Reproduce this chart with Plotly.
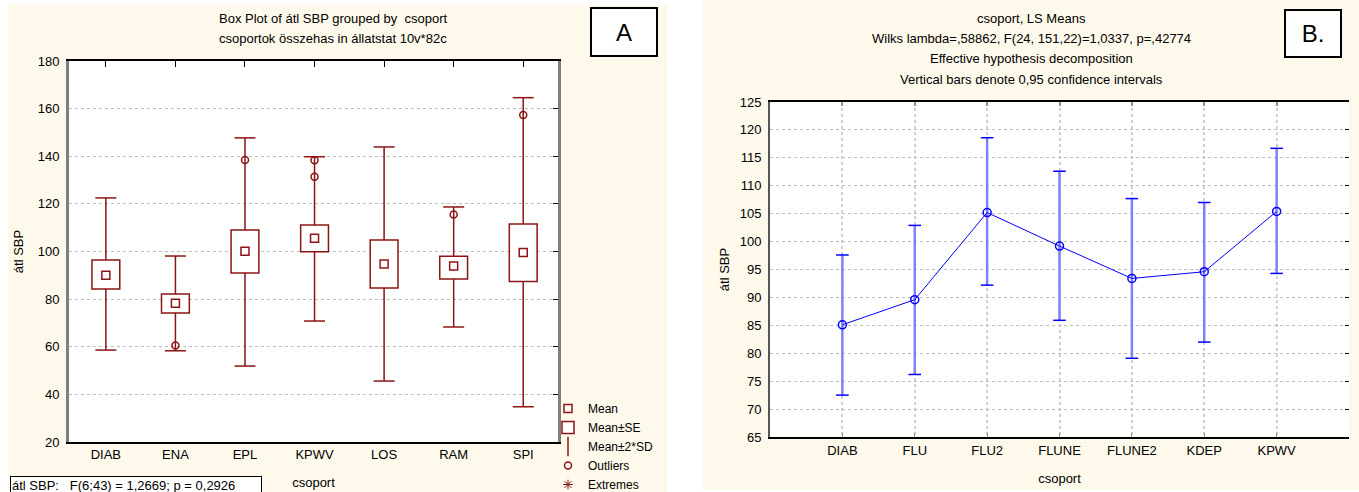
import plotly.graph_objects as go

# ---------------- Data: panel A (box plot) ----------------
cats_A = ["DIAB", "ENA", "EPL", "KPWV", "LOS", "RAM", "SPI"]
mean_A = [90.0, 78.3, 100.1, 105.6, 94.8, 93.9, 99.6]
se_lo_A = [84.2, 74.2, 91.0, 99.9, 84.7, 88.4, 87.4]
se_hi_A = [96.4, 82.1, 109.0, 111.1, 104.8, 98.0, 111.5]
sd_lo_A = [58.6, 58.3, 51.9, 70.8, 45.6, 68.3, 34.8]
sd_hi_A = [122.5, 98.1, 147.7, 139.8, 143.9, 118.7, 164.6]
outlier_cat = ["ENA", "EPL", "KPWV", "KPWV", "RAM", "SPI"]
outlier_val = [60.5, 138.4, 138.3, 131.4, 115.5, 157.3]
ticks_A = [20, 40, 60, 80, 100, 120, 140, 160, 180]

# ---------------- Data: panel B (LS means) ----------------
cats_B = ["DIAB", "FLU", "FLU2", "FLUNE", "FLUNE2", "KDEP", "KPWV"]
mean_B = [85.1, 89.6, 105.2, 99.2, 93.4, 94.6, 105.4]
ci_lo_B = [72.5, 76.2, 92.2, 85.9, 79.1, 82.0, 94.3]
ci_hi_B = [97.6, 102.9, 118.6, 112.6, 107.7, 107.0, 116.7]
ticks_B = [65, 70, 75, 80, 85, 90, 95, 100, 105, 110, 115, 120, 125]

W, H = 1359, 492
FONT = "Liberation Sans, Arial, sans-serif"
RED = "#8C1414"
BLUE = "#0000FF"
CREAM = "#FFF9EC"


def px(x):
    return x / W


def py(y):
    return 1 - y / H


fig = go.Figure()

# ---- Panel A traces ----
fig.add_trace(go.Bar(
    x=cats_A, y=[h - l for h, l in zip(se_hi_A, se_lo_A)], base=se_lo_A,
    width=0.4, marker=dict(color="white", line=dict(color=RED, width=1.5)),
    name="Mean±SE", xaxis="x", yaxis="y", legendrank=2, hoverinfo="skip"))

wx, wy = [], []
for c, bl, bh, sl, sh in zip(cats_A, se_lo_A, se_hi_A, sd_lo_A, sd_hi_A):
    wx += [c, c, None, c, c, None]
    wy += [bh, sh, None, bl, sl, None]
fig.add_trace(go.Scatter(
    x=wx, y=wy, mode="lines", line=dict(color=RED, width=1.5),
    showlegend=False, xaxis="x", yaxis="y", hoverinfo="skip"))
fig.add_trace(go.Scatter(
    x=cats_A + cats_A, y=sd_hi_A + sd_lo_A, mode="markers",
    marker=dict(symbol="line-ew", size=15, color=RED, line=dict(color=RED, width=1.5)),
    showlegend=False, xaxis="x", yaxis="y", hoverinfo="skip"))
fig.add_trace(go.Scatter(
    x=cats_A, y=mean_A, mode="markers", name="Mean",
    marker=dict(symbol="square-open", size=8, color=RED, line=dict(width=1.5)),
    xaxis="x", yaxis="y", legendrank=1))
fig.add_trace(go.Scatter(
    x=[None], y=[None], mode="markers", name="Mean±2*SD",
    marker=dict(symbol="line-ns-open", size=14, color=RED, line=dict(color=RED, width=1.5)),
    xaxis="x", yaxis="y", legendrank=3))
fig.add_trace(go.Scatter(
    x=outlier_cat, y=outlier_val, mode="markers", name="Outliers",
    marker=dict(symbol="circle-open", size=7, color=RED, line=dict(width=1.5)),
    xaxis="x", yaxis="y", legendrank=4))
fig.add_trace(go.Scatter(
    x=[None], y=[None], mode="markers", name="Extremes",
    marker=dict(symbol="asterisk-open", size=8, color=RED, line=dict(color=RED, width=1)),
    xaxis="x", yaxis="y", legendrank=5))
# overlay axes carriers (ticks on top/right)
fig.add_trace(go.Scatter(x=[None], y=[None], xaxis="x3", yaxis="y3",
                         showlegend=False, hoverinfo="skip"))

# ---- Panel B traces ----
fig.add_trace(go.Scatter(
    x=cats_B, y=mean_B, mode="markers", marker=dict(size=1, opacity=0),
    error_y=dict(type="data", symmetric=False,
                 array=[h - m for h, m in zip(ci_hi_B, mean_B)],
                 arrayminus=[m - l for m, l in zip(mean_B, ci_lo_B)],
                 color="#8080FF", thickness=2.5, width=0),
    showlegend=False, xaxis="x2", yaxis="y2", hoverinfo="skip"))
fig.add_trace(go.Scatter(
    x=cats_B + cats_B, y=ci_hi_B + ci_lo_B, mode="markers",
    marker=dict(symbol="line-ew", size=9, color=BLUE, line=dict(color=BLUE, width=1.5)),
    showlegend=False, xaxis="x2", yaxis="y2", hoverinfo="skip"))
fig.add_trace(go.Scatter(
    x=cats_B, y=mean_B, mode="lines+markers",
    line=dict(color=BLUE, width=1),
    marker=dict(symbol="circle-open", size=8, color=BLUE, line=dict(width=1.5)),
    showlegend=False, xaxis="x2", yaxis="y2"))
fig.add_trace(go.Scatter(x=[None], y=[None], xaxis="x4", yaxis="y4",
                         showlegend=False, hoverinfo="skip"))

tickfont = dict(family=FONT, size=13, color="black")
domA_x = [px(69), px(558)]
domA_y = [py(442), py(61)]
domB_x = [px(770), px(1349)]
domB_y = [py(437), py(102)]

fig.update_layout(
    width=W, height=H, margin=dict(l=0, r=0, t=0, b=0, autoexpand=False),
    paper_bgcolor="white", plot_bgcolor="white",
    font=dict(family=FONT, size=12, color="black"),
    barmode="overlay",
    xaxis=dict(domain=domA_x, anchor="y", type="category", range=[-0.53, 6.5],
               showline=True, linecolor="black", linewidth=1.5, ticks="",
               showgrid=False, tickfont=tickfont, automargin=False,
               title=dict(text="csoport", font=dict(family=FONT, size=13), standoff=17)),
    yaxis=dict(domain=domA_y, anchor="x", range=[20, 180], tickvals=ticks_A,
               showline=True, linecolor="#7F7F7F", linewidth=3, ticks="",
               showgrid=True, gridcolor="#BDBDBD", griddash="dot", gridwidth=1,
               zeroline=False, tickfont=tickfont, ticklabelstandoff=4, automargin=False,
               title=dict(text="átl SBP", font=dict(family=FONT, size=13), standoff=12)),
    xaxis3=dict(overlaying="x", anchor="y", side="top", type="linear",
                range=[-0.53, 6.5], tickvals=list(range(len(cats_A))),
                showticklabels=False, ticks="inside", ticklen=6, tickcolor="black",
                showline=True, linecolor="black", linewidth=1.5, showgrid=False,
                zeroline=False, automargin=False),
    yaxis3=dict(overlaying="y", anchor="x", side="right", range=[20, 180],
                tickvals=ticks_A, showticklabels=False, ticks="inside", ticklen=5,
                tickcolor="black", showline=True, linecolor="#7F7F7F", linewidth=3,
                showgrid=False, zeroline=False, automargin=False),
    xaxis2=dict(domain=domB_x, anchor="y2", type="category", range=[-1, 7],
                showline=True, linecolor="black", linewidth=2,
                ticks="inside", ticklen=4, tickcolor="#909090",
                showgrid=True, gridcolor="#D0D0D0", griddash="dot", gridwidth=2,
                tickfont=tickfont, automargin=False,
                title=dict(text="csoport", font=dict(family=FONT, size=13), standoff=17)),
    yaxis2=dict(domain=domB_y, anchor="x2", range=[65, 125], tickvals=ticks_B,
                showline=True, linecolor="#555555", linewidth=2, ticks="",
                showgrid=True, gridcolor="#BDBDBD", griddash="dot", gridwidth=1,
                zeroline=False, tickfont=tickfont, ticklabelstandoff=4, automargin=False,
                title=dict(text="átl SBP", font=dict(family=FONT, size=13), standoff=7)),
    xaxis4=dict(overlaying="x2", anchor="y2", side="top", type="linear",
                range=[-1, 7], tickvals=list(range(len(cats_B))),
                showticklabels=False, ticks="inside", ticklen=4, tickcolor="#909090",
                tickwidth=2, showline=True, linecolor="black", linewidth=2,
                showgrid=False, zeroline=False, automargin=False),
    yaxis4=dict(overlaying="y2", anchor="x2", side="right", range=[65, 125],
                tickvals=ticks_B, showticklabels=False, ticks="inside", ticklen=4,
                tickcolor="black", showline=False, showgrid=False, zeroline=False,
                automargin=False),
    legend=dict(x=px(548), y=py(394), xanchor="left", yanchor="top",
                bgcolor="rgba(0,0,0,0)", font=dict(family=FONT, size=12),
                itemwidth=30, tracegroupgap=0),
    showlegend=True,
)

# backgrounds
fig.add_shape(type="rect", xref="paper", yref="paper", x0=px(8), x1=px(667),
              y0=0, y1=py(5), fillcolor=CREAM, line=dict(width=0), layer="below")
fig.add_shape(type="rect", xref="paper", yref="paper", x0=px(703), x1=1,
              y0=py(490), y1=1, fillcolor=CREAM, line=dict(width=0), layer="below")
fig.add_shape(type="rect", xref="x domain", yref="y domain", x0=0, x1=1, y0=0, y1=1,
              fillcolor="white", line=dict(width=0), layer="below")
fig.add_shape(type="rect", xref="x2 domain", yref="y2 domain", x0=0, x1=1, y0=0, y1=1,
              fillcolor="white", line=dict(width=0), layer="below")

ann = []
tf = dict(family=FONT, size=13, color="black")
ann.append(dict(text="Box Plot of átl SBP grouped by  csoport", x=px(333), y=py(18),
                xref="paper", yref="paper", xanchor="center", yanchor="middle",
                showarrow=False, font=tf))
ann.append(dict(text="csoportok összehas in állatstat 10v*82c", x=px(333), y=py(39),
                xref="paper", yref="paper", xanchor="center", yanchor="middle",
                showarrow=False, font=tf))
ann.append(dict(text="A", x=px(624), y=py(32), xref="paper", yref="paper",
                xanchor="center", yanchor="middle",
                showarrow=False, font=dict(family=FONT, size=24, color="black"),
                bordercolor="black", borderwidth=2, bgcolor="white",
                width=62, height=44))
ann.append(dict(text="átl SBP:   F(6;43) = 1,2669; p = 0,2926", x=px(10), y=py(476),
                xref="paper", yref="paper", xanchor="left", yanchor="top", align="left",
                showarrow=False, font=tf, bordercolor="black", borderwidth=1,
                bgcolor="white", width=248, height=26, valign="top"))
b_titles = ["csoport, LS Means",
            "Wilks lambda=,58862, F(24, 151,22)=1,0337, p=,42774",
            "Effective hypothesis decomposition",
            "Vertical bars denote 0,95 confidence intervals"]
for i, t in enumerate(b_titles):
    ann.append(dict(text=t, x=px(1031), y=py(18 + 20.5 * i), xref="paper", yref="paper",
                    xanchor="center", yanchor="middle", showarrow=False, font=tf))
ann.append(dict(text="B.", x=px(1313), y=py(34), xref="paper", yref="paper",
                xanchor="center", yanchor="middle",
                showarrow=False, font=dict(family=FONT, size=24, color="black"),
                bordercolor="black", borderwidth=2, bgcolor="white",
                width=52, height=43))
fig.update_layout(annotations=ann)

fig.write_html("out.html", config={"displayModeBar": False},
               post_script="document.body.style.margin='0px';"
                           "document.body.style.overflow='hidden';")
